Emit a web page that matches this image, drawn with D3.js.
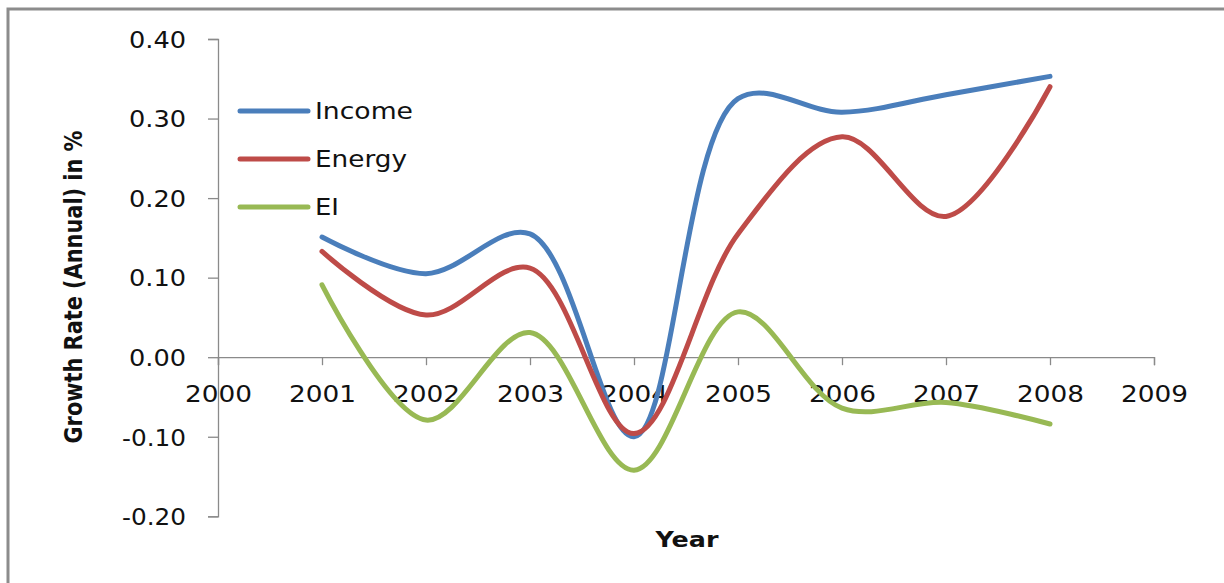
<!DOCTYPE html>
<html>
<head>
<meta charset="utf-8">
<script src="https://cdn.jsdelivr.net/npm/d3@7"></script>
<style>
  body { margin: 0; background: #fff; }
  text { font-family: "DejaVu Sans", Verdana, sans-serif; fill: #111; }
</style>
</head>
<body>
<div id="chart"></div>
<script>
// data
var years = [2001, 2002, 2003, 2004, 2005, 2006, 2007, 2008];
var income = [0.151, 0.105, 0.155, -0.100, 0.325, 0.308, 0.330, 0.353];
var energy = [0.133, 0.053, 0.112, -0.096, 0.155, 0.277, 0.177, 0.340];
var ei = [0.091, -0.079, 0.031, -0.142, 0.057, -0.064, -0.057, -0.084];
var seriesNames = ["Income", "Energy", "EI"];
var seriesColors = ["#4A7EBB", "#BE4B48", "#98B954"];
var yTicks = [-0.20, -0.10, 0.00, 0.10, 0.20, 0.30, 0.40];
var xTicks = [2000, 2001, 2002, 2003, 2004, 2005, 2006, 2007, 2008, 2009];

var width = 1224, height = 583;

var svg = d3.select("#chart")
  .append("svg")
    .attr("width", width)
    .attr("height", height);

// outer chart border (runs off the right and bottom of the picture)
svg.append("rect")
  .attr("x", 8).attr("y", 9)
  .attr("width", 1260).attr("height", 640)
  .attr("fill", "none")
  .attr("stroke", "#8c8c8c")
  .attr("stroke-width", 3);

var x = d3.scaleLinear().domain([2000, 2009]).range([218, 1154]);
var y = d3.scaleLinear().domain([-0.2, 0.4]).range([516.3, 39]);

// plain hyphen for negatives, like the original
var fmt = function(d) { return d3.format(".2f")(d).replace("\u2212", "-"); };

// y axis
var yAxis = svg.append("g")
  .attr("transform", "translate(218,0)")
  .call(d3.axisLeft(y).tickValues(yTicks).tickFormat(fmt).tickSize(10).tickPadding(22));
yAxis.select(".domain").attr("stroke", "#8a8a8a").attr("stroke-width", 1.3);
yAxis.selectAll(".tick line").attr("stroke", "#8a8a8a").attr("stroke-width", 1.3);
yAxis.selectAll(".tick text")
  .attr("font-size", 23)
  .attr("font-family", "DejaVu Sans, sans-serif")
  .attr("fill", "#111")
  .attr("dy", "0.36em")
  .attr("textLength", function(d) { return d < 0 ? 64 : 57; })
  .attr("lengthAdjust", "spacingAndGlyphs");

// x axis, sits on 0.00
var xAxis = svg.append("g")
  .attr("transform", "translate(0," + y(0) + ")")
  .call(d3.axisBottom(x).tickValues(xTicks).tickFormat(d3.format("d")).tickSize(8).tickPadding(20));
xAxis.select(".domain").attr("stroke", "#8a8a8a").attr("stroke-width", 1.3);
xAxis.selectAll(".tick line").attr("stroke", "#8a8a8a").attr("stroke-width", 1.3);
xAxis.selectAll(".tick text")
  .attr("font-size", 23)
  .attr("font-family", "DejaVu Sans, sans-serif")
  .attr("fill", "#111")
  .attr("textLength", 67)
  .attr("lengthAdjust", "spacingAndGlyphs");

// lines, Excel-like smoothing
var line = d3.line()
  .x(function(d, i) { return x(years[i]); })
  .y(function(d) { return y(d); })
  .curve(d3.curveCatmullRom.alpha(0.5));

var allSeries = [income, energy, ei];
svg.selectAll(".series")
  .data(allSeries)
  .enter()
  .append("path")
    .attr("class", "series")
    .attr("d", line)
    .attr("fill", "none")
    .attr("stroke", function(d, i) { return seriesColors[i]; })
    .attr("stroke-width", 5)
    .attr("stroke-linecap", "round");

// legend
var legend = svg.selectAll(".legend")
  .data(seriesNames)
  .enter()
  .append("g")
    .attr("class", "legend")
    .attr("transform", function(d, i) { return "translate(240," + (111 + i * 48) + ")"; });
legend.append("line")
  .attr("x1", 0).attr("x2", 68)
  .attr("stroke", function(d, i) { return seriesColors[i]; })
  .attr("stroke-width", 5)
  .attr("stroke-linecap", "round");
legend.append("text")
  .attr("x", 75)
  .attr("dy", "0.36em")
  .attr("font-size", 23)
  .text(function(d) { return d; })
  .attr("textLength", function(d) { return d == "Income" ? 98 : d == "Energy" ? 92 : 24; })
  .attr("lengthAdjust", "spacingAndGlyphs");

// axis titles
svg.append("text")
  .attr("transform", "translate(82,287) rotate(-90)")
  .attr("text-anchor", "middle")
  .attr("font-family", "Liberation Sans Narrow, Liberation Sans, sans-serif")
  .attr("font-size", 24)
  .attr("font-weight", "bold")
  .attr("textLength", 313)
  .attr("lengthAdjust", "spacingAndGlyphs")
  .text("Growth Rate (Annual) in %");

svg.append("text")
  .attr("x", 687)
  .attr("y", 547)
  .attr("text-anchor", "middle")
  .attr("font-size", 22)
  .attr("font-weight", "bold")
  .attr("textLength", 63)
  .attr("lengthAdjust", "spacingAndGlyphs")
  .text("Year");
</script>
</body>
</html>
